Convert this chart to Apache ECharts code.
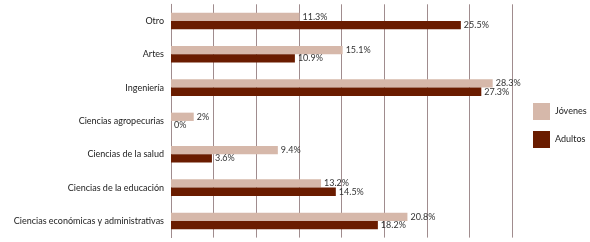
<!DOCTYPE html>
<html>
<head>
<meta charset="utf-8">
<script src="https://cdn.jsdelivr.net/npm/echarts@6/dist/echarts.min.js"></script>
<style>
html,body{margin:0;padding:0;background:#fff;}
#c{width:590px;height:242px;}
</style>
</head>
<body>
<div id="c"></div>
<script>
const categories = ["Otro","Artes","Ingeniería","Ciencias agropecurias","Ciencias de la salud","Ciencias de la educación","Ciencias económicas y administrativas"];
const jovenes = [11.3, 15.1, 28.3, 2, 9.4, 13.2, 20.8];
const adultos = [25.5, 10.9, 27.3, 0, 3.6, 14.5, 18.2];
const seriesNames = ["Jóvenes","Adultos"];

const font = "Lato";
const gridColor = "#a08c8e";
const chart = echarts.init(document.getElementById('c'));
const lbl = {show:true, position:'right', distance:3, formatter: p => p.value + '%', fontFamily:font, fontSize:9, color:'#333'};
chart.setOption({
  animation:false,
  textStyle:{fontFamily:font},
  grid:{left:171, right:78, top:4.3, height:233.3, containLabel:false},
  legend:{
    orient:'vertical', left:528, top:98, itemWidth:17, itemHeight:17, itemGap:11,
    icon:'rect', textStyle:{fontFamily:font, fontSize:9, color:'#222', padding:[0,0,0,0]},
    data:seriesNames
  },
  xAxis:{type:'value', min:0, max:30, interval:3.75,
    axisLabel:{show:false}, axisTick:{show:false}, axisLine:{show:false},
    splitLine:{show:true, lineStyle:{color:gridColor, width:1}}},
  yAxis:{type:'category', data:categories, inverse:true,
    axisLine:{show:true, lineStyle:{color:gridColor}}, axisTick:{show:false},
    axisLabel:{fontFamily:font, fontSize:9, color:'#222', margin:7}},
  series:[
    {name:seriesNames[0], type:'bar', data:jovenes, barWidth:8.3, barGap:'0%', itemStyle:{color:'#d6b8aa'}, label:lbl},
    {name:seriesNames[1], type:'bar', data:adultos, barWidth:8.3, barGap:'0%', itemStyle:{color:'#6a1c00'}, label:lbl}
  ]
});
</script>
</body>
</html>
